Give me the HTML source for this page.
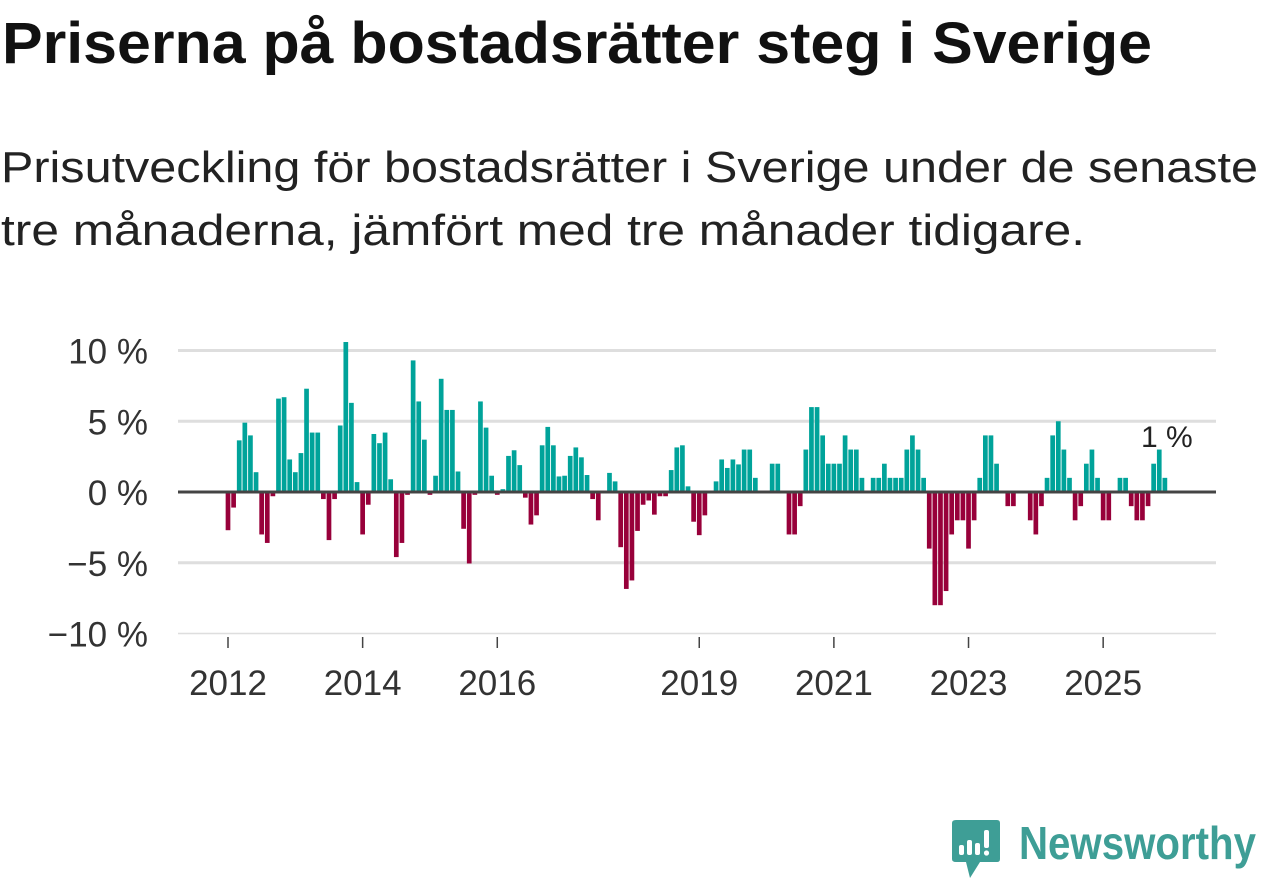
<!DOCTYPE html>
<html><head><meta charset="utf-8">
<style>
html,body{margin:0;padding:0;background:#fff;}
svg{display:block;font-family:"Liberation Sans",sans-serif;}
</style></head>
<body>
<svg id="chart" width="1262" height="879" viewBox="0 0 1262 879" xmlns="http://www.w3.org/2000/svg">
<text x="2" y="63" font-size="58" font-weight="bold" fill="#111" textLength="1150" lengthAdjust="spacingAndGlyphs">Priserna på bostadsrätter steg i Sverige</text>
<text x="1" y="182" font-size="44" fill="#222" textLength="1257" lengthAdjust="spacingAndGlyphs">Prisutveckling för bostadsrätter i Sverige under de senaste</text>
<text x="1" y="245" font-size="44" fill="#222" textLength="1084" lengthAdjust="spacingAndGlyphs">tre månaderna, jämfört med tre månader tidigare.</text>
<g id="grid"></g>
<g id="bars"></g>
<g id="axes"></g>
<g>
<path d="M956 820 H997 Q1000 820 1000 823 V859 Q1000 862 997 862 H980 L970 878 L966 862 H956 Q952 862 952 859 V823 Q952 820 956 820 Z" fill="#3e9e96"/>
<rect x="959" y="845" width="5" height="10" rx="2" fill="#fff"/>
<rect x="967" y="840" width="5" height="15" rx="2" fill="#fff"/>
<rect x="975" y="843" width="5" height="12" rx="2" fill="#fff"/>
<rect x="984" y="830" width="5" height="18" rx="2" fill="#fff"/>
<circle cx="986.5" cy="853" r="2.6" fill="#fff"/>
<text x="1019" y="859" font-size="46" font-weight="bold" fill="#3e9e96" textLength="237" lengthAdjust="spacingAndGlyphs">Newsworthy</text>
</g>
</svg>
<script>
const values = [
-2.7,-1.1,3.65,4.9,4.0,1.4,-3.0,-3.6,-0.3,6.6,6.7,2.3,
1.4,2.75,7.3,4.2,4.2,-0.5,-3.4,-0.5,4.7,10.6,6.3,0.7,
-3.0,-0.9,4.1,3.45,4.2,0.9,-4.6,-3.6,-0.2,9.3,6.4,3.7,
-0.2,1.15,8.0,5.8,5.8,1.45,-2.6,-5.05,-0.2,6.4,4.55,1.15,
-0.2,0.2,2.55,2.95,1.9,-0.4,-2.3,-1.65,3.3,4.6,3.3,1.1,
1.15,2.55,3.15,2.45,1.2,-0.5,-2.0,0,1.35,0.75,-3.9,-6.85,
-6.25,-2.75,-0.9,-0.6,-1.6,-0.3,-0.3,1.55,3.15,3.3,0.4,-2.1,
-3.05,-1.65,0,0.75,2.3,1.7,2.3,1.95,3.0,3.0,1.0,0,
0,2,2,0,-3,-3,-1,3,6,6,4,2,
2,2,4,3,3,1,0,1,1,2,1,1,
1,3,4,3,1,-4,-8,-8,-7,-3,-2,-2,
-4,-2,1,4,4,2,0,-1,-1,0,0,-2,
-3,-1,1,4,5,3,1,-2,-1,2,3,1,
-2,-2,0,1,1,-1,-2,-2,-1,2,3,1
];
const startYear = 2012;
const yTicks = [10,5,0,-5,-10];
const yTickLabels = ["10 %","5 %","0 %","\u22125 %","\u221210 %"];
const xTickYears = [2012,2014,2016,2019,2021,2023,2025];
const lastLabel = "1 %";

const NS="http://www.w3.org/2000/svg";
const X0=228, PITCH=5.61, BW=4.7;
const xPos = i => X0 + PITCH*i;
const yearX = yr => xPos((yr-startYear)*12);
const yPos = v => 492 - v*14.15;
function mk(tag, attrs, parent){const e=document.createElementNS(NS,tag);for(const k in attrs)e.setAttribute(k,attrs[k]);parent.appendChild(e);return e;}
const grid=document.getElementById('grid'), bars=document.getElementById('bars'), axes=document.getElementById('axes');
yTicks.forEach((t,k)=>{
  if(t!==0){
    const l=mk('line',{x1:178,x2:1216,y1:yPos(t),y2:yPos(t),stroke:'#dedede','stroke-width':t===-10?1.5:3},grid);
    
    
  }
  const tx=mk('text',{x:148,y:yPos(t)+13,'font-size':35,fill:'#333','text-anchor':'end'},axes);
  tx.textContent=yTickLabels[k];
  
  
});
values.forEach((v,i)=>{
  const y=yPos(v), y0=yPos(0);
  const r=mk('rect',{x:xPos(i)-BW/2,y:Math.min(y,y0),width:BW,height:Math.abs(y-y0),fill:v>=0?'#00a39a':'#98003a'},bars);
  
  
});
const zl=mk('line',{x1:178,x2:1216,y1:yPos(0),y2:yPos(0),stroke:'#444','stroke-width':3},axes);


xTickYears.forEach(yr=>{
  const x=yearX(yr);
  const tk=mk('line',{x1:x,x2:x,y1:637,y2:648,stroke:'#444','stroke-width':1.5},axes);
  
  
  const tx=mk('text',{x:x,y:695,'font-size':35,fill:'#333','text-anchor':'middle'},axes);
  tx.textContent=String(yr);
  
  
});
const li=values.length-1;
const lt=mk('text',{x:xPos(li)+2,y:yPos(Math.max(values[li],0))-31,'font-size':30,fill:'#222','text-anchor':'middle'},axes);
lt.textContent=lastLabel;


</script>
</body></html>
